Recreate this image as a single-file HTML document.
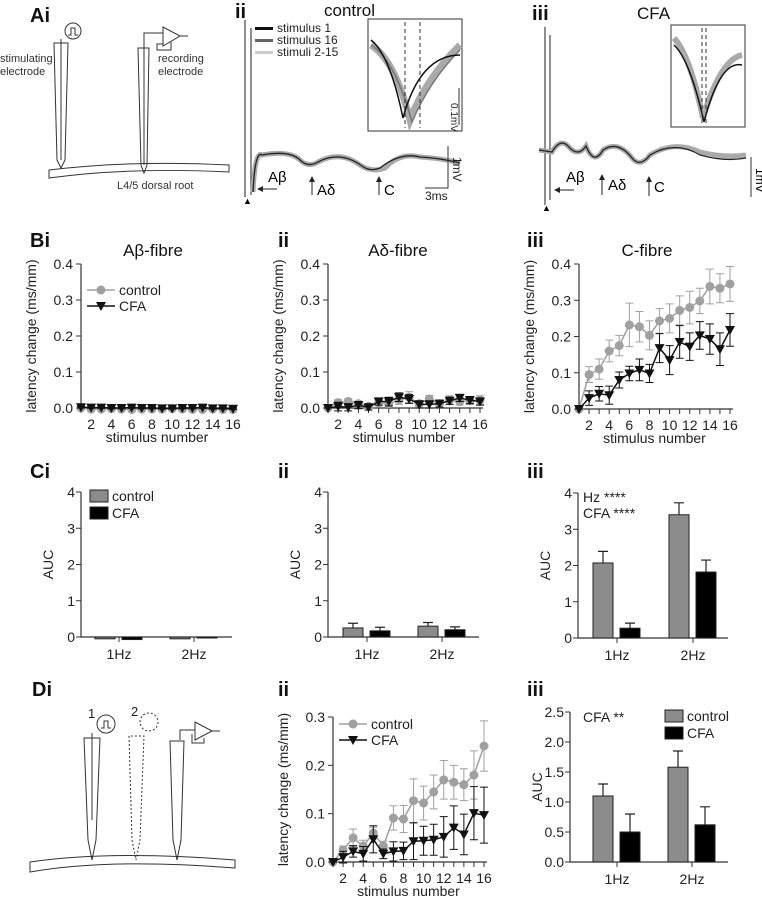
<!DOCTYPE html>
<html><head><meta charset="utf-8">
<style>
html,body{margin:0;padding:0;background:#fff;}
svg{display:block;font-family:"Liberation Sans",sans-serif;}
.tk{font-size:14px;fill:#222;}
.lab{font-size:14px;fill:#222;}
.pl{font-size:20px;font-weight:bold;fill:#111;}
.ttl{font-size:17px;fill:#111;}
</style></head>
<body>
<svg id="fig" width="762" height="900" viewBox="0 0 762 900">
<defs><marker id="ah" markerWidth="6" markerHeight="6" refX="3" refY="3" orient="auto"><path d="M0 0 L6 3 L0 6 Z" fill="#222"/></marker></defs>
<!-- Panel A -->
<g fill="none" stroke="#333" stroke-width="1">
<text class="pl" x="30" y="22" stroke="none">Ai</text>
<circle cx="73" cy="31" r="8"/><path d="M68 35 h3 v-7 h4 v7 h3"/>
<path d="M54 43 L57 160 L61 168 L65 160 L68 43 Z"/><path d="M61 39 V160"/>
<path d="M138 48 L141 165 L144 173 L147 165 L149 48 Z"/><path d="M144 165 V33 H163"/>
<path d="M163 27 L180 36 L163 46 Z"/><path d="M180 36 H188 M171 42 V50 H157 V44 H163"/>
<path d="M49 170 Q130 160 229 165 L229 172 Q130 167 49 178 Z"/>
<text x="0" y="62" font-size="11" fill="#333" stroke="none">stimulating</text>
<text x="0" y="75" font-size="11" fill="#333" stroke="none">electrode</text>
<text x="158" y="62" font-size="11" fill="#333" stroke="none">recording</text>
<text x="158" y="75" font-size="11" fill="#333" stroke="none">electrode</text>
<text x="117" y="189" font-size="11" fill="#333" stroke="none">L4/5 dorsal root</text>
</g>
<g>
<text class="pl" x="235" y="18">ii</text>
<text class="ttl" x="324" y="16" font-size="17">control</text>
<path d="M245 20 V197 M251 28 V195" stroke="#444" stroke-width="1.2" fill="none"/>
<path d="M253 192 Q255 150 262 155 Q290 150 300 160 Q308 168 318 162 Q340 150 360 165 Q372 173 385 168 Q400 152 420 157 Q440 158 460 163" stroke="#aaa" stroke-width="5" fill="none"/>
<path d="M253 192 Q255 150 262 155 Q290 150 300 160 Q308 168 318 162 Q340 150 362 166 Q370 172 380 168 Q400 152 420 157 Q440 158 460 163" stroke="#222" stroke-width="1.3" fill="none"/>
<rect x="368" y="19" width="94" height="112" fill="#fff" stroke="#333"/>
<path d="M371 45 Q395 60 410 120 Q425 80 460 45" stroke="#aaa" stroke-width="7" fill="none"/>
<path d="M371 45 Q395 60 412 122 Q430 80 460 50" stroke="#777" stroke-width="1.5" fill="none"/>
<path d="M371 40 Q390 55 403 118 Q420 55 460 55" stroke="#111" stroke-width="1.5" fill="none"/>
<path d="M405 22 V128 M420 22 V128" stroke="#333" stroke-dasharray="4,3"/>
<path d="M459 88 V125" stroke="#333"/>
<text x="0" y="0" font-size="10" fill="#222" transform="translate(451,103) rotate(90)">0.1mV</text>
<text x="277" y="32" font-size="12" fill="#222">stimulus 1</text>
<text x="277" y="44" font-size="12" fill="#222">stimulus 16</text>
<text x="277" y="56" font-size="12" fill="#222">stimuli 2-15</text>
<rect x="255" y="27" width="18" height="3" fill="#111"/><rect x="255" y="39" width="18" height="3" fill="#666"/><rect x="255" y="51" width="18" height="3" fill="#ccc"/>
<path d="M448 146 V188 H425" stroke="#333" fill="none"/>
<text x="0" y="0" font-size="12" fill="#222" transform="translate(453,157) rotate(90)">1mV</text>
<text x="425" y="200" font-size="12" fill="#222">3ms</text>
<text x="268" y="182" font-size="15">Aβ</text><path d="M277 189 H260" stroke="#222" marker-end="url(#ah)"/>
<text x="317" y="195" font-size="15">Aδ</text><path d="M312 195 V179" stroke="#222" marker-end="url(#ah)"/>
<text x="384" y="195" font-size="15">C</text><path d="M379 195 V179" stroke="#222" marker-end="url(#ah)"/>
<text x="243" y="204" font-size="9">▲</text>
</g>
<g>
<text class="pl" x="532" y="20">iii</text>
<text class="ttl" x="637" y="19" font-size="17">CFA</text>
<path d="M545 27 V205 M550 35 V200" stroke="#444" stroke-width="1.2" fill="none"/>
<path d="M539 150 L552 152 Q560 138 568 146 Q578 158 586 146 Q594 166 603 150 Q618 140 632 158 Q640 168 650 155 Q675 140 700 152 Q725 158 746 155" stroke="#aaa" stroke-width="5" fill="none"/>
<path d="M539 150 L552 152 Q560 138 568 146 Q578 158 586 146 Q594 166 603 150 Q618 140 632 158 Q640 168 650 155 Q675 140 700 155 Q725 162 746 158" stroke="#222" stroke-width="1.3" fill="none"/>
<rect x="671" y="25" width="74" height="102" fill="#fff" stroke="#333"/>
<path d="M674 38 Q690 55 703 118 Q720 60 742 55" stroke="#aaa" stroke-width="6" fill="none"/>
<path d="M674 45 Q690 60 704 122 Q720 60 742 65" stroke="#111" stroke-width="1.5" fill="none"/>
<path d="M702 28 V124 M706 28 V124" stroke="#333" stroke-dasharray="4,3"/>
<path d="M751 157 V197" stroke="#333"/>
<text x="0" y="0" font-size="12" transform="translate(756,168) rotate(90)">1mV</text>
<text x="566" y="182" font-size="15">Aβ</text><path d="M574 190 H557" stroke="#222" marker-end="url(#ah)"/>
<text x="608" y="190" font-size="15">Aδ</text><path d="M602 195 V177" stroke="#222" marker-end="url(#ah)"/>
<text x="654" y="192" font-size="15">C</text><path d="M649 196 V179" stroke="#222" marker-end="url(#ah)"/>
<text x="542" y="211" font-size="9">▲</text>
</g>

<!-- Panel D diagram -->
<g fill="none" stroke="#333" stroke-width="1">
<text class="pl" x="32" y="696" stroke="none">Di</text>
<text x="88" y="718" font-size="13" fill="#222" stroke="none">1</text>
<circle cx="106" cy="724" r="9"/><path d="M101 728 h3 v-7 h4 v7 h3"/>
<text x="131" y="716" font-size="13" fill="#222" stroke="none">2</text>
<circle cx="149" cy="722" r="9" stroke-dasharray="2,2"/>
<path d="M84 738 L88 840 L92 860 L96 840 L100 738 Z"/><path d="M92 733 V820"/>
<path d="M129 736 L132 840 L136 860 L140 840 L144 736 Z" stroke-dasharray="2,2"/>
<path d="M170 741 L173 840 L177 860 L181 840 L184 741 Z"/><path d="M180 740 V730 H195"/>
<path d="M195 722 L212 731 L195 740 Z"/><path d="M212 731 H220 M204 738 V743 H192 V734"/>
<path d="M30 862 Q110 850 235 860 L235 868 Q110 858 30 872 Z"/>
</g>

<g id="charts"></g>
</svg>
<script>
// ---- data ----
const stim = [1,2,3,4,5,6,7,8,9,10,11,12,13,14,15,16];
const xTicks = [2,4,6,8,10,12,14,16];
const yTicksB = [0,0.1,0.2,0.3,0.4];
const yTickLabelsB = ["0.0","0.1","0.2","0.3","0.4"];
const biCtrl = [0,-0.003,-0.003,-0.002,-0.003,-0.004,-0.003,-0.003,-0.003,-0.002,-0.003,-0.004,-0.004,-0.003,-0.004,-0.004];
const biCtrlErr = [0,0.003,0.003,0.003,0.003,0.003,0.003,0.003,0.003,0.003,0.003,0.003,0.003,0.003,0.003,0.003];
const biCfa = [0.002,0.001,0.001,0,0,0.001,0,0,-0.001,-0.001,0,0,0.001,-0.001,-0.001,-0.002];
const biCfaErr = [0.002,0.002,0.002,0.002,0.002,0.002,0.002,0.002,0.002,0.002,0.002,0.002,0.002,0.002,0.002,0.002];
const biiCtrl = [0,0.015,0.018,0.012,0.005,0.014,0.012,0.022,0.03,0.012,0.025,0.012,0.022,0.018,0.02,0.022];
const biiCtrlErr = [0,0.008,0.008,0.006,0.005,0.008,0.01,0.012,0.015,0.008,0.01,0.01,0.012,0.01,0.01,0.012];
const biiCfa = [0,0.004,0.002,0.008,0.002,0.018,0.018,0.03,0.025,0.01,0.01,0.012,0.02,0.028,0.022,0.018];
const biiCfaErr = [0,0.012,0.01,0.01,0.008,0.01,0.012,0.012,0.012,0.01,0.01,0.01,0.01,0.01,0.01,0.01];
const biiiCtrl = [0,0.095,0.11,0.16,0.175,0.232,0.227,0.203,0.243,0.25,0.272,0.28,0.298,0.338,0.333,0.345];
const biiiCtrlErr = [0,0.022,0.028,0.03,0.028,0.06,0.042,0.04,0.034,0.04,0.04,0.045,0.035,0.048,0.04,0.048];
const biiiCfa = [0,0.03,0.042,0.038,0.08,0.098,0.108,0.098,0.168,0.135,0.185,0.172,0.203,0.193,0.165,0.218];
const biiiCfaErr = [0,0.02,0.02,0.025,0.022,0.02,0.03,0.025,0.04,0.04,0.045,0.038,0.038,0.042,0.045,0.045];
const diiCtrl = [0,0.025,0.05,0.033,0.06,0.033,0.091,0.089,0.127,0.122,0.145,0.17,0.165,0.16,0.18,0.24];
const diiCtrlErr = [0,0.008,0.018,0.012,0.012,0.01,0.025,0.028,0.045,0.035,0.035,0.04,0.035,0.033,0.05,0.052];
const diiCfa = [0,0.01,0.022,0.017,0.047,0.017,0.022,0.023,0.043,0.044,0.046,0.052,0.071,0.057,0.101,0.097];
const diiCfaErr = [0,0.012,0.012,0.015,0.028,0.01,0.02,0.018,0.038,0.03,0.032,0.042,0.045,0.042,0.055,0.058];
const yTicksD = [0,0.1,0.2,0.3];
const yTickLabelsD = ["0.0","0.1","0.2","0.3"];
const freqs = ["1Hz","2Hz"];
const yTicksC = [0,1,2,3,4];
const ciCtrl = [-0.05,-0.05], ciCtrlErr=[0,0], ciCfa=[-0.07,-0.02], ciCfaErr=[0,0];
const ciiCtrl = [0.25,0.3], ciiCtrlErr=[0.13,0.1], ciiCfa=[0.17,0.2], ciiCfaErr=[0.1,0.08];
const ciiiCtrl = [2.07,3.4], ciiiCtrlErr=[0.32,0.33], ciiiCfa=[0.27,1.82], ciiiCfaErr=[0.14,0.33];
const yTicksDiii = [0,0.5,1.0,1.5,2.0,2.5];
const yTickLabelsDiii = ["0.0","0.5","1.0","1.5","2.0","2.5"];
const diiiCtrl = [1.1,1.58], diiiCtrlErr=[0.2,0.27], diiiCfa=[0.5,0.62], diiiCfaErr=[0.3,0.3];

const NS="http://www.w3.org/2000/svg";
const root=document.getElementById('charts');
function mk(tag,attrs,parent){const e=document.createElementNS(NS,tag);for(const k in attrs)e.setAttribute(k,attrs[k]);(parent||root).appendChild(e);return e;}
function txt(s,attrs,parent){const e=mk('text',attrs,parent);e.textContent=s;return e;}

function lineChart(name,ax,x16,y0,yTop,yMax,yt,ytl,ctrl,ce,cfa,fe,showLegend,legX,legY){
  const g=mk('g',{});
  
  
  const sx=s=>ax+(s-1)*(x16-ax)/15;
  const sy=v=>y0-v*(y0-yTop)/yMax;
  mk('path',{d:`M${ax} ${yTop} V${y0} H${x16+3}`,stroke:'#333',fill:'none','stroke-width':1.2},g);
  yt.forEach((t,i)=>{const y=sy(t);mk('path',{d:`M${ax-5} ${y} H${ax}`,stroke:'#333'},g);
    txt(ytl[i],{x:ax-8,y:y+5,'text-anchor':'end',class:'tk'},g);});
  stim.forEach(s=>{mk('path',{d:`M${sx(s)} ${y0} V${y0+5}`,stroke:'#333'},g);});
  xTicks.forEach(s=>{txt(String(s),{x:sx(s),y:y0+21,'text-anchor':'middle',class:'tk'},g);});
  txt('stimulus number',{x:(ax+x16)/2,y:y0+34,'text-anchor':'middle',class:'lab','font-size':'15'},g);
  const ycx=ax-45;
  txt('latency change (ms/mm)',{x:0,y:0,'text-anchor':'middle',class:'lab','font-size':'15',transform:`translate(${ycx},${(y0+yTop)/2}) rotate(-90)`},g);
  function series(vals,errs,col,tri,nm){
    const sg=mk('g',{},g);
    
    
    vals.forEach((v,i)=>{const x=sx(stim[i]),e=errs[i];
      mk('path',{d:`M${x} ${sy(v-e)} V${sy(v+e)} M${x-4} ${sy(v+e)} H${x+4} M${x-4} ${sy(v-e)} H${x+4}`,stroke:col,fill:'none'},sg);});
    mk('polyline',{points:vals.map((v,i)=>sx(stim[i])+','+sy(v)).join(' '),stroke:col,fill:'none','stroke-width':1.5},sg);
    vals.forEach((v,i)=>{const x=sx(stim[i]),y=sy(v);
      if(tri) mk('path',{d:`M${x-5} ${y-4} H${x+5} L${x} ${y+5} Z`,fill:col},sg);
      else mk('circle',{cx:x,cy:y,r:4.5,fill:col},sg);});
  }
  series(ctrl,ce,'#a0a0a0',false,name+'-control-series');
  series(cfa,fe,'#111',true,name+'-cfa-series');
  if(showLegend){
    const lg=mk('g',{},g);
    
    
    mk('path',{d:`M${legX} ${legY} H${legX+28}`,stroke:'#a0a0a0','stroke-width':1.5},lg);
    mk('circle',{cx:legX+14,cy:legY,r:4.5,fill:'#a0a0a0'},lg);
    txt('control',{x:legX+32,y:legY+5,class:'lab','font-size':'15'},lg);
    mk('path',{d:`M${legX} ${legY+16} H${legX+28}`,stroke:'#111','stroke-width':1.5},lg);
    mk('path',{d:`M${legX+9} ${legY+12} H${legX+19} L${legX+14} ${legY+21} Z`,fill:'#111'},lg);
    txt('CFA',{x:legX+32,y:legY+21,class:'lab','font-size':'15'},lg);
  }
}
function barChart(name,ax,xEnd,xs,y0,yTop,yMax,yt,ytl,ctrl,ce,cfa,fe,showLegend,legX,legY){
  const g=mk('g',{});
  
  
  const sy=v=>y0-v*(y0-yTop)/yMax;
  mk('path',{d:`M${ax} ${yTop} V${y0} H${xEnd}`,stroke:'#333',fill:'none','stroke-width':1.2},g);
  yt.forEach((t,i)=>{const y=sy(t);mk('path',{d:`M${ax-5} ${y} H${ax}`,stroke:'#333'},g);
    txt(ytl[i],{x:ax-6,y:y+5,'text-anchor':'end',class:'tk'},g);});
  txt('AUC',{x:0,y:0,'text-anchor':'middle',class:'lab','font-size':'15',transform:`translate(${ax-28},${(y0+yTop)/2}) rotate(-90)`},g);
  freqs.forEach((f,i)=>{const x=xs[i];
    mk('path',{d:`M${x} ${y0} V${y0+5}`,stroke:'#333'},g);
    txt(f,{x:x,y:y0+22,'text-anchor':'middle',class:'tk'},g);
    [[ctrl,ce,'#8c8c8c',-24,'control'],[cfa,fe,'#000',3,'cfa']].forEach(([vals,errs,col,off,nm])=>{
      const v=vals[i],e=errs[i];const bx=x+off,ya=sy(Math.max(v,0)),yb=sy(Math.min(v,0));
      if(e>0) mk('path',{d:`M${bx+10} ${sy(v)} V${sy(v+e)} M${bx+5} ${sy(v+e)} H${bx+15}`,stroke:'#222',fill:'none','stroke-width':1.2},g);
      const r=mk('rect',{x:bx,y:ya,width:20,height:Math.max(yb-ya,1),fill:col,stroke:'#222','stroke-width':1},g);
      
      
    });
  });
  if(showLegend){
    const lg=mk('g',{},g);
    
    
    mk('rect',{x:legX,y:legY-10,width:18,height:12,fill:'#8c8c8c',stroke:'#222'},lg);
    txt('control',{x:legX+22,y:legY+1,class:'lab','font-size':'15'},lg);
    mk('rect',{x:legX,y:legY+7,width:18,height:12,fill:'#000',stroke:'#222'},lg);
    txt('CFA',{x:legX+22,y:legY+18,class:'lab','font-size':'15'},lg);
  }
}
// Row B
txt('Bi',{x:30,y:247,class:'pl'});
txt('ii',{x:278,y:247,class:'pl'});
txt('iii',{x:527,y:247,class:'pl'});
txt('Aβ-fibre',{x:153,y:256,'text-anchor':'middle',class:'ttl'});
txt('Aδ-fibre',{x:398,y:256,'text-anchor':'middle',class:'ttl'});
txt('C-fibre',{x:647,y:256,'text-anchor':'middle',class:'ttl'});
lineChart('chart-bi-abeta',81,233,408,264,0.4,yTicksB,yTickLabelsB,biCtrl,biCtrlErr,biCfa,biCfaErr,true,87,290);
lineChart('chart-bii-adelta',328,480,408,264,0.4,yTicksB,yTickLabelsB,biiCtrl,biiCtrlErr,biiCfa,biiCfaErr,false);
lineChart('chart-biii-c',579,730,409,264,0.4,yTicksB,yTickLabelsB,biiiCtrl,biiiCtrlErr,biiiCfa,biiiCfaErr,false);
// Row C
txt('Ci',{x:30,y:478,class:'pl'});
txt('ii',{x:278,y:478,class:'pl'});
txt('iii',{x:527,y:478,class:'pl'});
barChart('chart-ci-abeta-auc',81,232,[119,194],637,492,4,yTicksC,yTicksC.map(String),ciCtrl,ciCtrlErr,ciCfa,ciCfaErr,true,90,500);
barChart('chart-cii-adelta-auc',328,479,[367,442],637,492,4,yTicksC,yTicksC.map(String),ciiCtrl,ciiCtrlErr,ciiCfa,ciiCfaErr,false);
barChart('chart-ciii-c-auc',578,728,[617,693],638,493,4,yTicksC,yTicksC.map(String),ciiiCtrl,ciiiCtrlErr,ciiiCfa,ciiiCfaErr,false);
txt('Hz ****',{x:583,y:502,class:'lab','font-size':'16'});
txt('CFA ****',{x:583,y:518,class:'lab','font-size':'16'});
// Row D
txt('ii',{x:278,y:696,class:'pl'});
txt('iii',{x:527,y:696,class:'pl'});
lineChart('chart-dii-latency',333,484,862,717,0.3,yTicksD,yTickLabelsD,diiCtrl,diiCtrlErr,diiCfa,diiCfaErr,true,339,724);
barChart('chart-diii-auc',570,728,[617,692],862,712,2.5,yTicksDiii,yTickLabelsDiii,diiiCtrl,diiiCtrlErr,diiiCfa,diiiCfaErr,true,665,720);
txt('CFA **',{x:583,y:722,class:'lab','font-size':'16'});
</script>
</body></html>
